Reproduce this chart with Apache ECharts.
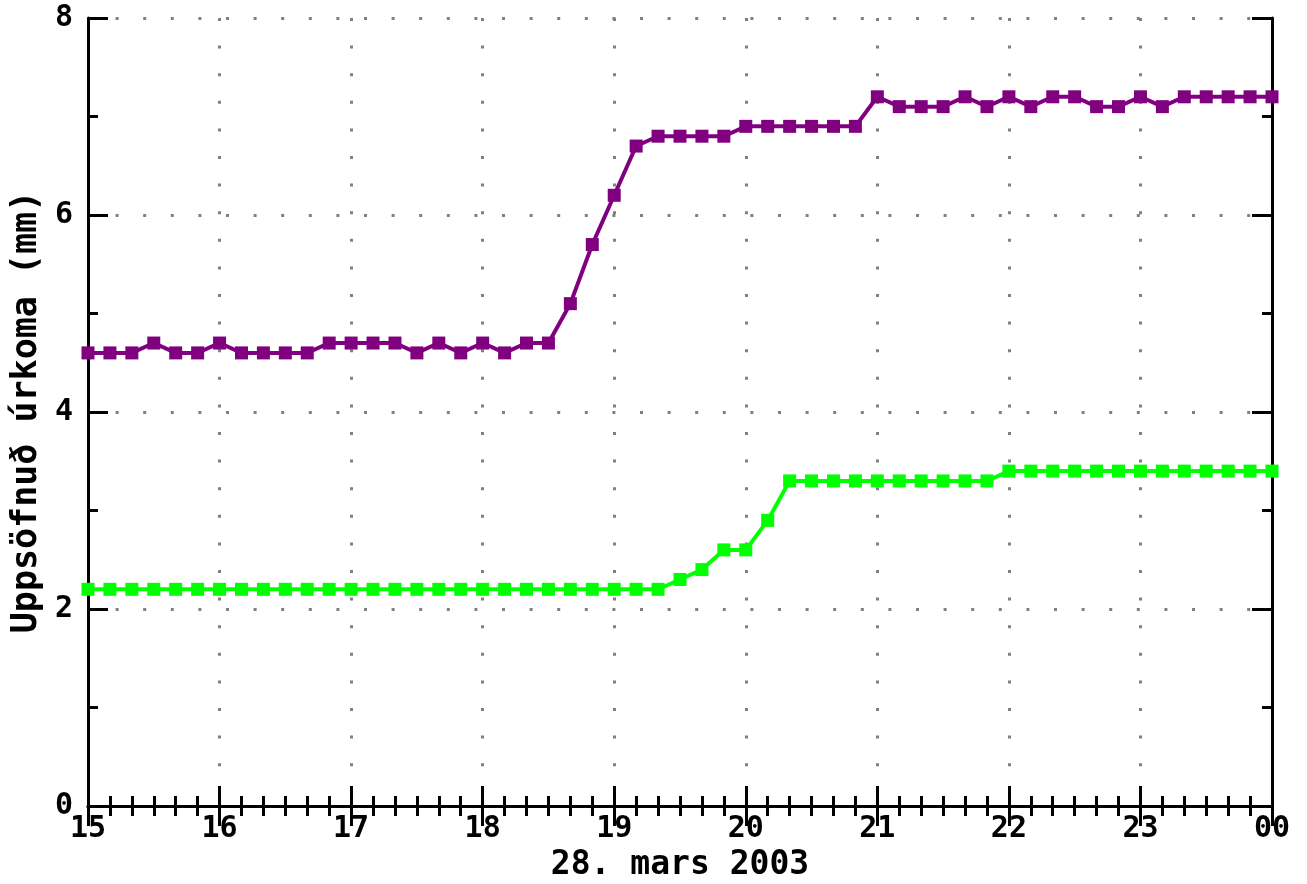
<!DOCTYPE html>
<html>
<head>
<meta charset="utf-8">
<script src="https://cdn.jsdelivr.net/npm/echarts@6/dist/echarts.min.js"></script>
<style>
  html, body { margin: 0; padding: 0; background: #fff; }
  #chart { width: 1307px; height: 884px; }
</style>
</head>
<body>
<div id="chart"></div>
<script>
// Accumulated precipitation, 10-minute steps from 15:00 to 24:00
const startHour = 15;
const endHour = 24;
const stepsPerHour = 6;

const purpleValues = [
  4.6, 4.6, 4.6, 4.7, 4.6, 4.6, 4.7, 4.6, 4.6, 4.6, 4.6,
  4.7, 4.7, 4.7, 4.7, 4.6, 4.7, 4.6, 4.7, 4.6, 4.7, 4.7,
  5.1, 5.7, 6.2, 6.7,
  6.8, 6.8, 6.8, 6.8,
  6.9, 6.9, 6.9, 6.9, 6.9, 6.9,
  7.2, 7.1, 7.1, 7.1, 7.2, 7.1, 7.2, 7.1, 7.2, 7.2,
  7.1, 7.1, 7.2, 7.1, 7.2, 7.2, 7.2, 7.2, 7.2
];

const greenValues = [
  2.2, 2.2, 2.2, 2.2, 2.2, 2.2, 2.2, 2.2, 2.2, 2.2,
  2.2, 2.2, 2.2, 2.2, 2.2, 2.2, 2.2, 2.2, 2.2, 2.2,
  2.2, 2.2, 2.2, 2.2, 2.2, 2.2, 2.2,
  2.3, 2.4, 2.6, 2.6, 2.9,
  3.3, 3.3, 3.3, 3.3, 3.3, 3.3, 3.3, 3.3, 3.3, 3.3,
  3.4, 3.4, 3.4, 3.4, 3.4, 3.4, 3.4, 3.4, 3.4, 3.4, 3.4, 3.4, 3.4
];

const yTicks = [0, 2, 4, 6, 8];
const xTickLabels = ['15', '16', '17', '18', '19', '20', '21', '22', '23', '00'];
const xAxisTitle = '28. mars 2003';
const yAxisTitle = 'Uppsöfnuð úrkoma (mm)';

function toPairs(values) {
  return values.map((v, i) => [startHour + i / stepsPerHour, v]);
}

const font = '"DejaVu Sans Mono", monospace';
const grid = {
  left: 88, right: 35, top: 18, bottom: 78,
  containLabel: false, outerBoundsMode: 'none'
};

const dotted = { color: '#808080', width: 3, type: [3, 24.6] };
const frameLine = { show: true, lineStyle: { color: '#000', width: 3 } };
const majorTick = { show: true, inside: true, length: 20, lineStyle: { color: '#000', width: 3 } };

function minorTick(n) {
  return { show: true, splitNumber: n, length: 10, lineStyle: { color: '#000', width: 3 } };
}

const chart = echarts.init(document.getElementById('chart'), null, { renderer: 'canvas' });

chart.setOption({
  animation: false,
  backgroundColor: '#fff',
  grid: grid,
  xAxis: [
    {
      type: 'value', position: 'bottom',
      min: startHour, max: endHour, interval: 1,
      axisLine: frameLine,
      axisTick: majorTick,
      minorTick: minorTick(stepsPerHour),
      splitLine: { show: true, lineStyle: dotted },
      axisLabel: {
        margin: 8, color: '#000', fontFamily: font, fontSize: 30, fontWeight: 'bold',
        formatter: v => xTickLabels[Math.round(v - startHour)]
      },
      name: xAxisTitle, nameLocation: 'middle', nameGap: 40,
      nameTextStyle: { color: '#000', fontFamily: font, fontSize: 33, fontWeight: 'bold' }
    },
    {
      type: 'value', position: 'top',
      min: startHour, max: endHour, interval: 1,
      axisLine: frameLine,
      axisTick: majorTick,
      minorTick: minorTick(stepsPerHour),
      splitLine: { show: false },
      axisLabel: { show: false }
    }
  ],
  yAxis: [
    {
      type: 'value', position: 'left',
      min: yTicks[0], max: yTicks[yTicks.length - 1], interval: 2,
      axisLine: frameLine,
      axisTick: majorTick,
      minorTick: minorTick(2),
      splitLine: { show: true, lineStyle: dotted },
      axisLabel: { margin: 15, color: '#000', fontFamily: font, fontSize: 30, fontWeight: 'bold' },
      name: yAxisTitle, nameLocation: 'middle', nameGap: 44, nameRotate: 90,
      nameTextStyle: { color: '#000', fontFamily: font, fontSize: 35, fontWeight: 'bold' }
    },
    {
      type: 'value', position: 'right',
      min: yTicks[0], max: yTicks[yTicks.length - 1], interval: 2,
      axisLine: frameLine,
      axisTick: majorTick,
      minorTick: minorTick(2),
      splitLine: { show: false },
      axisLabel: { show: false }
    }
  ],
  series: [
    {
      name: 'fjólublá', type: 'line', xAxisIndex: 0, yAxisIndex: 0,
      data: toPairs(purpleValues),
      symbol: 'rect', symbolSize: 13,
      lineStyle: { color: '#800080', width: 4 },
      itemStyle: { color: '#800080' }
    },
    {
      name: 'græn', type: 'line', xAxisIndex: 0, yAxisIndex: 0,
      data: toPairs(greenValues),
      symbol: 'rect', symbolSize: 13,
      lineStyle: { color: '#00ff00', width: 4 },
      itemStyle: { color: '#00ff00' }
    }
  ]
});
</script>
</body>
</html>
